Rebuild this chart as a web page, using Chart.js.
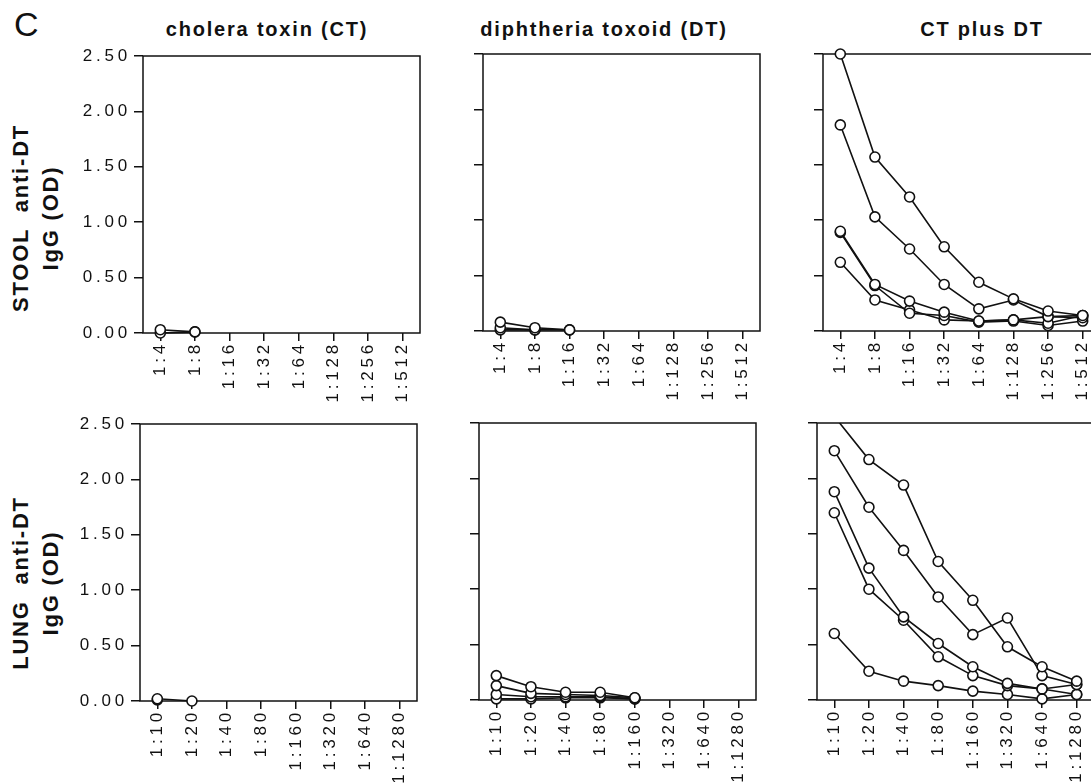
<!DOCTYPE html>
<html>
<head>
<meta charset="utf-8">
<script src="https://cdn.jsdelivr.net/npm/chart.js@4.4.1/dist/chart.umd.min.js"></script>
<style>
  html, body { margin: 0; padding: 0; background: #fff; }
  body { width: 1091px; height: 783px; overflow: hidden; position: relative;
         font-family: "Liberation Sans", Arial, sans-serif; color: #111; }
  canvas { position: absolute; }
  .letter { position: absolute; left: 14px; top: 7px; font-size: 34px; line-height: 34px; }
  .title { position: absolute; width: 300px; top: 19px; font-weight: bold; font-size: 20px;
           line-height: 20px; letter-spacing: 1.8px; white-space: nowrap; text-align: center; }
  .ytitle { position: absolute; width: 240px; height: 22px; font-weight: bold; font-size: 22px;
            line-height: 22px; letter-spacing: 1.8px; white-space: pre; text-align: center;
            transform: rotate(-90deg); }
</style>
</head>
<body>
<div class="letter">C</div>
<div class="title" style="left:117px">cholera toxin (CT)</div>
<div class="title" style="left:454px">diphtheria toxoid (DT)</div>
<div class="title" style="left:832px">CT plus DT</div>
<div class="ytitle" style="left:-99px; top:207px">STOOL  anti-DT</div>
<div class="ytitle" style="left:-69px; top:207px">IgG (OD)</div>
<div class="ytitle" style="left:-99px; top:572px">LUNG  anti-DT</div>
<div class="ytitle" style="left:-69px; top:572px">IgG (OD)</div>

<script>
// dilutions
const stoolLabels = ['1:4', '1:8', '1:16', '1:32', '1:64', '1:128', '1:256', '1:512'];
const lungLabels = ['1:10', '1:20', '1:40', '1:80', '1:160', '1:320', '1:640', '1:1280'];
const yTicks = [0, 0.5, 1, 1.5, 2, 2.5];

// STOOL anti-DT IgG (OD), one array per mouse
const stoolCT = [
  [0.03, 0.01],
  [0.00, 0.01]
];
const stoolDT = [
  [0.08, 0.03, 0.01],
  [0.03, 0.01, 0.01],
  [0.01, 0.01]
];
const stoolCTDT = [
  [2.50, 1.57, 1.21, 0.76, 0.44, 0.29, 0.18, 0.14],
  [1.86, 1.03, 0.74, 0.42, 0.20, 0.28, 0.13, 0.12],
  [0.90, 0.42, 0.27, 0.17, 0.09, 0.10, 0.07, 0.14],
  [0.89, 0.41, 0.16, 0.14, 0.08, 0.09, 0.05, 0.09],
  [0.62, 0.28, 0.19, 0.10, 0.09, 0.10, 0.13, 0.14]
];

// LUNG anti-DT IgG (OD)
const lungCT = [
  [0.02, 0.00],
  [0.01]
];
const lungDT = [
  [0.22, 0.12, 0.07, 0.07, 0.02],
  [0.13, 0.06, 0.05, 0.04, 0.02],
  [0.05, 0.03, 0.03, 0.03, 0.01],
  [0.01, 0.01, 0.02, 0.02, 0.01]
];
const lungCTDT = [
  [2.56, 2.17, 1.94, 1.25, 0.90, 0.48, 0.30, 0.17],
  [2.25, 1.74, 1.35, 0.93, 0.59, 0.74, 0.22, 0.14],
  [1.88, 1.19, 0.75, 0.51, 0.30, 0.15, 0.10, 0.14],
  [1.69, 1.00, 0.72, 0.39, 0.22, 0.13, 0.10, 0.05],
  [0.60, 0.26, 0.17, 0.13, 0.08, 0.05, 0.01, 0.05]
];

const PLOT_W = 277, PLOT_H = 277;
const Y_W = 80, X_H = 110, PAD_T = 15, PAD_R = 15;
const FONT = '"Liberation Sans", Arial, sans-serif';
const INK = '#111';

// plot box positions on the page
const panels = [
  { left: 143, top: 56,  labels: stoolLabels, series: stoolCT,   yLabels: true },
  { left: 483, top: 54,  labels: stoolLabels, series: stoolDT,   yLabels: false },
  { left: 823, top: 54,  labels: stoolLabels, series: stoolCTDT, yLabels: false },
  { left: 140, top: 424, labels: lungLabels,  series: lungCT,    yLabels: true },
  { left: 479, top: 423, labels: lungLabels,  series: lungDT,    yLabels: false },
  { left: 817, top: 423, labels: lungLabels,  series: lungCTDT,  yLabels: false }
];

const framePlugin = {
  id: 'frame',
  beforeDraw(chart) {
    chart.ctx.letterSpacing = '3.8px';
  },
  beforeDatasetsDraw(chart) {
    const { ctx, chartArea: a } = chart;
    ctx.save();
    ctx.strokeStyle = INK;
    ctx.lineWidth = 1.5;
    ctx.strokeRect(a.left, a.top, a.right - a.left, a.bottom - a.top);
    ctx.restore();
  }
};

const yMax = yTicks[yTicks.length - 1];

panels.forEach(p => {
  const canvas = document.createElement('canvas');
  canvas.width = Y_W + PLOT_W + PAD_R;
  canvas.height = PAD_T + PLOT_H + X_H;
  canvas.style.left = (p.left - Y_W) + 'px';
  canvas.style.top = (p.top - PAD_T) + 'px';
  document.body.appendChild(canvas);

  new Chart(canvas.getContext('2d'), {
    type: 'line',
    data: {
      labels: p.labels,
      datasets: p.series.map(d => ({
        data: d,
        borderColor: INK,
        borderWidth: 1.6,
        pointRadius: 5,
        pointBorderWidth: 1.6,
        pointBackgroundColor: '#fff',
        pointBorderColor: INK,
        tension: 0,
        clip: Math.max(...d) > yMax ? 0 : false
      }))
    },
    options: {
      responsive: false,
      animation: false,
      events: [],
      layout: { padding: { top: PAD_T, right: PAD_R, left: 0, bottom: 0 } },
      plugins: { legend: { display: false }, tooltip: { enabled: false } },
      scales: {
        x: {
          type: 'category',
          offset: true,
          afterFit: s => { s.height = X_H; },
          border: { display: false },
          grid: { drawOnChartArea: false, offset: false, tickLength: 8, color: INK, lineWidth: 1.5 },
          ticks: { autoSkip: false, maxRotation: 90, minRotation: 90, padding: 0,
                   color: INK, font: { family: FONT, size: 17 } }
        },
        y: {
          min: yTicks[0],
          max: yMax,
          afterBuildTicks: s => { s.ticks = yTicks.map(v => ({ value: v })); },
          afterFit: s => { s.width = Y_W; },
          border: { display: false },
          grid: { drawOnChartArea: false, tickLength: 9, color: INK, lineWidth: 1.5 },
          ticks: { padding: 3, color: INK, font: { family: FONT, size: 17 },
                   callback: v => p.yLabels ? Number(v).toFixed(2) : '' }
        }
      }
    },
    plugins: [framePlugin]
  });
});
</script>
</body>
</html>
